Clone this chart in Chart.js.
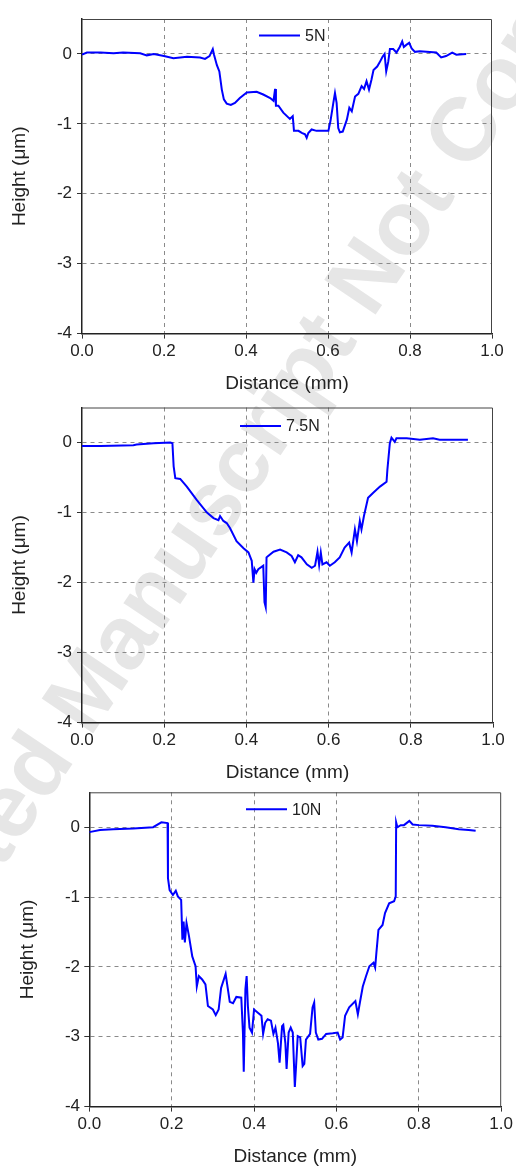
<!doctype html>
<html lang="en">
<head>
    <meta charset="UTF-8">
    <title>Scratch depth profiles</title>
    <script src="https://cdn.jsdelivr.net/npm/chart.js@4.4.1/dist/chart.umd.min.js"></script>
    <style>
        html, body {
            margin: 0;
            padding: 0;
            background: #fff;
        }
        body {
            width: 516px;
            height: 1168px;
            position: relative;
            overflow: hidden;
            font-family: 'Liberation Sans', Arial, sans-serif;
        }
        .panel {
            position: absolute;
            left: 0;
            width: 516px;
        }
        .watermark {
            position: absolute;
            left: 64px;
            top: 676px;
            height: 90px;
            line-height: 90px;
            font-size: 90px;
            font-weight: bold;
            white-space: nowrap;
            color: #e6e6e6;
            transform-origin: 0 50%;
            transform: rotate(-56deg);
        }
        .watermark span {
            position: absolute;
            right: 100%;
        }
    </style>
</head>
<body>
    <div class="watermark"><span>Accepted&nbsp;</span>Manuscript Not Copyedited</div>
    <div class="panel" style="top:0px;height:395px;"><canvas id="chart5"></canvas></div>
    <div class="panel" style="top:388px;height:396px;"><canvas id="chart75"></canvas></div>
    <div class="panel" style="top:772px;height:396px;"><canvas id="chart10"></canvas></div>

    <script>
        // tick positions
        var xTickValues = [0, 0.2, 0.4, 0.6, 0.8, 1.0];
        var yTickValues = [-4, -3, -2, -1, 0];

        // 5N profile
        var dist5N = [0, 0.012, 0.045, 0.077, 0.10, 0.142, 0.158, 0.175, 0.2, 0.223, 0.256, 0.288, 0.3, 0.311, 0.319,
            0.322, 0.329, 0.335, 0.341, 0.346, 0.353, 0.363, 0.373, 0.385, 0.402, 0.426, 0.442, 0.459, 0.467, 0.471,
            0.473, 0.479, 0.491, 0.507, 0.514, 0.517, 0.528, 0.536, 0.544, 0.548, 0.552, 0.56, 0.572, 0.601, 0.606,
            0.613, 0.617, 0.621, 0.625, 0.629, 0.636, 0.646, 0.652, 0.658, 0.666, 0.674, 0.682, 0.688, 0.694, 0.700,
            0.706, 0.711, 0.72, 0.726, 0.733, 0.738, 0.742, 0.747, 0.751, 0.759, 0.767, 0.775, 0.781, 0.785, 0.791,
            0.798, 0.804, 0.812, 0.824, 0.864, 0.876, 0.888, 0.903, 0.913, 0.937];
        var height5N = [-0.01, 0.02, 0.02, 0.01, 0.02, 0.01, -0.02, 0, -0.03, -0.06, -0.04, -0.05, -0.07, -0.03, 0.07,
            -0.01, -0.16, -0.25, -0.51, -0.65, -0.71, -0.73, -0.70, -0.63, -0.55, -0.54, -0.58, -0.63, -0.67, -0.50,
            -0.74, -0.74, -0.84, -0.93, -0.89, -1.10, -1.10, -1.13, -1.15, -1.20, -1.13, -1.08, -1.10, -1.10, -0.96,
            -0.70, -0.56, -0.70, -1.06, -1.12, -1.11, -0.94, -0.77, -0.82, -0.61, -0.57, -0.46, -0.50, -0.39, -0.51,
            -0.37, -0.23, -0.18, -0.12, -0.04, 0, -0.25, -0.11, 0.07, 0.07, 0.02, 0.10, 0.18, 0.10, 0.13,
            0.16, 0.08, 0.03, 0.04, 0.02, -0.05, -0.03, 0.02, -0.01, 0];

        // 7.5N profile
        var dist7N5 = [0, 0.045, 0.125, 0.133, 0.174, 0.215, 0.22, 0.223, 0.227, 0.239, 0.255, 0.279, 0.304, 0.32, 0.332,
            0.336, 0.344, 0.352, 0.36, 0.376, 0.393, 0.405, 0.413, 0.417, 0.42, 0.424, 0.429, 0.441, 0.444, 0.447,
            0.449, 0.453, 0.466, 0.482, 0.498, 0.51, 0.518, 0.526, 0.534, 0.547, 0.559, 0.567, 0.573, 0.577, 0.581,
            0.585, 0.595, 0.603, 0.615, 0.627, 0.639, 0.65, 0.656, 0.664, 0.669, 0.676, 0.68, 0.686, 0.696, 0.708,
            0.725, 0.741, 0.743, 0.749, 0.753, 0.761, 0.765, 0.79, 0.822, 0.854, 0.87, 0.939];
        var height7N5 = [-0.05, -0.05, -0.04, -0.03, -0.01, 0, -0.01, -0.34, -0.51, -0.52, -0.63, -0.82, -1.0, -1.08, -1.11,
            -1.05, -1.12, -1.15, -1.22, -1.41, -1.51, -1.57, -1.69, -2.0, -1.81, -1.86, -1.81, -1.76, -2.28, -2.35,
            -1.64, -1.62, -1.56, -1.53, -1.57, -1.62, -1.71, -1.61, -1.64, -1.74, -1.79, -1.76, -1.56, -1.75, -1.57,
            -1.74, -1.71, -1.76, -1.71, -1.64, -1.50, -1.43, -1.57, -1.24, -1.41, -1.12, -1.24, -1.05, -0.79, -0.72,
            -0.63, -0.56, -0.39, -0.01, 0.07, 0.01, 0.06, 0.06, 0.04, 0.06, 0.04, 0.04];

        // 10N profile
        var dist10N = [0, 0.026, 0.058, 0.107, 0.155, 0.175, 0.19, 0.191, 0.195, 0.203, 0.21, 0.215, 0.223, 0.226, 0.229,
            0.232, 0.236, 0.242, 0.25, 0.258, 0.261, 0.266, 0.274, 0.282, 0.288, 0.3, 0.307, 0.314, 0.32, 0.331,
            0.336, 0.341, 0.349, 0.357, 0.369, 0.373, 0.375, 0.379, 0.382, 0.385, 0.389, 0.395, 0.4, 0.41, 0.418,
            0.422, 0.427, 0.433, 0.441, 0.447, 0.452, 0.458, 0.462, 0.468, 0.471, 0.476, 0.479, 0.484, 0.489, 0.494,
            0.499, 0.502, 0.506, 0.512, 0.518, 0.522, 0.526, 0.536, 0.542, 0.546, 0.55, 0.556, 0.565, 0.575, 0.591,
            0.603, 0.609, 0.615, 0.621, 0.631, 0.646, 0.652, 0.657, 0.664, 0.672, 0.68, 0.69, 0.694, 0.697, 0.702,
            0.712, 0.718, 0.728, 0.74, 0.744, 0.745, 0.748, 0.756, 0.764, 0.777, 0.785, 0.8, 0.833, 0.865, 0.897,
            0.921, 0.938];
        var height10N = [-0.07, -0.04, -0.03, -0.02, 0, 0.07, 0.06, -0.73, -0.90, -0.97, -0.91, -0.99, -1.04, -1.61, -1.35,
            -1.65, -1.37, -1.56, -1.85, -1.99, -2.28, -2.13, -2.18, -2.25, -2.56, -2.61, -2.69, -2.61, -2.30, -2.10,
            -2.30, -2.50, -2.52, -2.43, -2.44, -2.94, -3.50, -2.32, -2.13, -2.56, -2.87, -2.94, -2.61, -2.66, -2.70,
            -2.96, -2.80, -2.75, -2.77, -2.96, -2.87, -3.09, -3.37, -2.85, -2.83, -3.09, -3.46, -2.94, -2.87, -2.94,
            -3.72, -3.42, -2.99, -3.01, -3.42, -3.39, -3.04, -2.96, -2.58, -2.51, -2.94, -3.04, -3.03, -2.96, -2.95,
            -2.94, -3.04, -3.01, -2.70, -2.58, -2.49, -2.68, -2.51, -2.28, -2.13, -1.99, -1.94, -2.01, -1.80, -1.47,
            -1.40, -1.23, -1.09, -1.06, -0.99, 0.07, 0, 0.03, 0.03, 0.09, 0.04, 0.03, 0.02, 0, -0.03,
            -0.04, -0.05];

        var FONT = "'Liberation Sans', Arial, sans-serif";
        var TEXT = '#222';

        // top + right frame and the in-plot legend
        var framePlugin = {
            id: 'frame',
            afterDraw: function (chart) {
                var a = chart.chartArea;
                var ctx = chart.ctx;
                var lg = chart.options.plugins.frame;
                ctx.save();
                ctx.strokeStyle = '#444';
                ctx.lineWidth = 1;
                ctx.beginPath();
                ctx.moveTo(a.left, a.top + 0.5);
                ctx.lineTo(a.right - 0.5, a.top + 0.5);
                ctx.lineTo(a.right - 0.5, a.bottom);
                ctx.stroke();

                var ds = chart.data.datasets[0];
                var ly = a.top + lg.dy;
                ctx.strokeStyle = ds.borderColor;
                ctx.lineWidth = 2;
                ctx.beginPath();
                ctx.moveTo(lg.x, ly);
                ctx.lineTo(lg.x + 41, ly);
                ctx.stroke();
                ctx.fillStyle = TEXT;
                ctx.font = '16px ' + FONT;
                ctx.textBaseline = 'middle';
                ctx.fillText(ds.label, lg.x + 46, ly + 1);
                ctx.restore();
            }
        };

        function makeChart(id, label, xs, ys, g) {
            var pts = xs.map(function (x, i) { return {x: x, y: ys[i]}; });
            return new Chart(document.getElementById(id), {
                type: 'line',
                data: {
                    datasets: [{
                        label: label,
                        data: pts,
                        borderColor: '#0000ff',
                        borderWidth: 2,
                        pointRadius: 0,
                        tension: 0,
                        fill: false
                    }]
                },
                options: {
                    responsive: true,
                    maintainAspectRatio: false,
                    animation: false,
                    layout: {padding: {top: g.padTop, right: g.padRight, left: 0, bottom: 0}},
                    plugins: {
                        legend: {display: false},
                        tooltip: {enabled: false},
                        frame: {x: g.legendX, dy: g.legendDy}
                    },
                    scales: {
                        x: {
                            type: 'linear',
                            min: 0,
                            max: 1,
                            afterBuildTicks: function (s) {
                                s.ticks = xTickValues.map(function (v) { return {value: v}; });
                            },
                            afterFit: function (s) { s.height = 61.4; },
                            ticks: {
                                padding: 3,
                                color: TEXT,
                                font: {family: FONT, size: 17},
                                maxRotation: 0,
                                callback: function (v) { return Number(v).toFixed(1); }
                            },
                            grid: {
                                color: function (c) {
                                    var v = c.tick ? c.tick.value : null;
                                    return (v === 0 || v === 1) ? 'rgba(0,0,0,0)' : '#8a8a8a';
                                },
                                lineWidth: 1,
                                tickLength: 5,
                                tickColor: '#333'
                            },
                            border: {display: true, color: '#222', width: 1.5, dash: [4, 4]},
                            title: {
                                display: true,
                                text: 'Distance (mm)',
                                color: TEXT,
                                font: {family: FONT, size: 19},
                                padding: {top: 0, bottom: 0}
                            }
                        },
                        y: {
                            min: -4,
                            max: 0.5,
                            afterBuildTicks: function (s) {
                                s.ticks = yTickValues.map(function (v) { return {value: v}; });
                            },
                            afterFit: function (s) { s.width = g.left; },
                            ticks: {
                                padding: g.yTickPad,
                                color: TEXT,
                                font: {family: FONT, size: 17},
                                callback: function (v) { return String(v); }
                            },
                            grid: {
                                color: function (c) {
                                    var v = c.tick ? c.tick.value : null;
                                    return v === -4 ? 'rgba(0,0,0,0)' : '#8a8a8a';
                                },
                                lineWidth: 1,
                                tickLength: 5,
                                tickColor: '#333'
                            },
                            border: {display: true, color: '#222', width: 1.5, dash: [4, 4]},
                            title: {
                                display: true,
                                text: 'Height (μm)',
                                color: TEXT,
                                font: {family: FONT, size: 19},
                                padding: {top: g.yTitlePad, bottom: 0}
                            }
                        }
                    }
                },
                plugins: [framePlugin]
            });
        }

        makeChart('chart5', '5N', dist5N, height5N,
            {padTop: 19, padRight: 24, left: 82, yTickPad: 5, yTitlePad: 8.6, legendX: 259, legendDy: 16.5});
        makeChart('chart75', '7.5N', dist7N5, height7N5,
            {padTop: 19.5, padRight: 23, left: 82, yTickPad: 5, yTitlePad: 8, legendX: 240, legendDy: 18.5});
        makeChart('chart10', '10N', dist10N, height10N,
            {padTop: 20.3, padRight: 13.7, left: 89.3, yTickPad: 4.3, yTitlePad: 16.6, legendX: 246, legendDy: 17});
    </script>
</body>
</html>
